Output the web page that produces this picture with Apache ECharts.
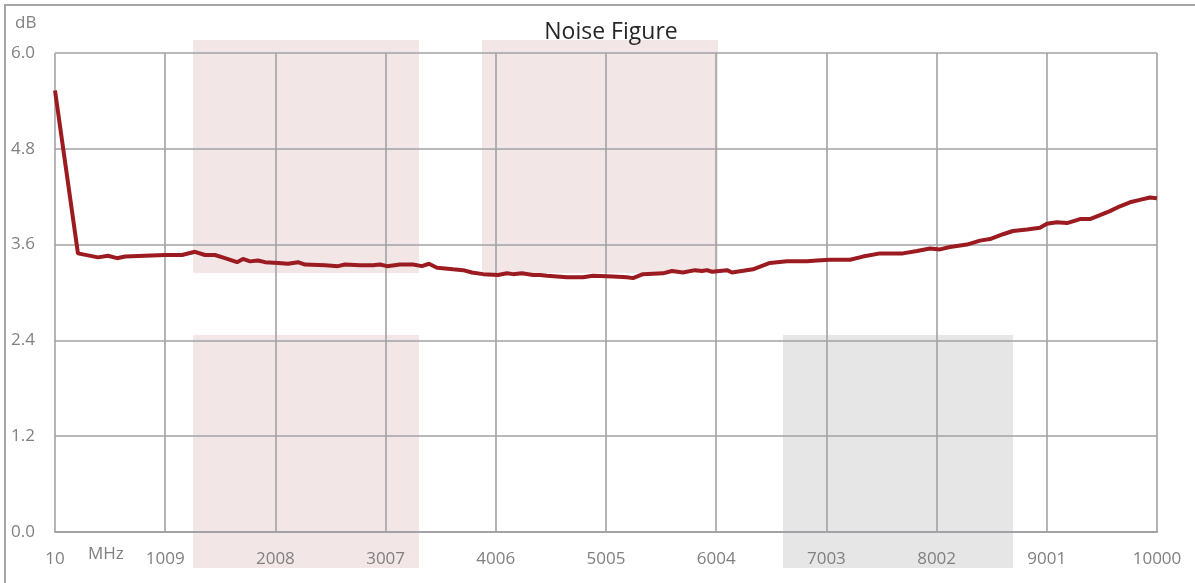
<!DOCTYPE html>
<html>
<head>
<meta charset="utf-8">
<script src="https://cdn.jsdelivr.net/npm/echarts@6/dist/echarts.min.js"></script>
<style>
html,body{margin:0;padding:0;background:#fff;}
#c{width:1195px;height:583px;}
</style>
</head>
<body>
<div id="c"></div>
<script>
// Frequency in MHz
const freqMHz = [10,218,400,490,572,645,826,1007,1161,1279,1370,1460,1551,1660,1714,1778,1850,1914,2031,2122,2213,2276,2458,2575,2639,2657,2775,2893,2956,3020,3137,3255,3337,3400,3473,3618,3709,3790,3890,4026,4107,4162,4243,4343,4406,4470,4651,4796,4887,5068,5195,5250,5340,5521,5603,5703,5812,5875,5920,5966,6102,6147,6337,6491,6646,6827,6917,7035,7217,7334,7489,7697,7824,7942,8033,8123,8277,8395,8486,8604,8694,8821,8939,9002,9093,9184,9302,9392,9483,9573,9664,9755,9845,9936,10000];
// Noise figure in dB
const noiseFigureDB = [5.53,3.49,3.44,3.46,3.43,3.45,3.46,3.47,3.47,3.51,3.47,3.47,3.43,3.38,3.42,3.39,3.40,3.38,3.37,3.36,3.38,3.35,3.34,3.33,3.35,3.36,3.34,3.34,3.35,3.33,3.35,3.35,3.33,3.36,3.31,3.29,3.28,3.25,3.23,3.22,3.24,3.23,3.24,3.22,3.22,3.21,3.19,3.19,3.21,3.20,3.19,3.18,3.23,3.24,3.27,3.25,3.28,3.27,3.28,3.26,3.28,3.25,3.29,3.37,3.39,3.39,3.40,3.41,3.41,3.45,3.49,3.49,3.52,3.55,3.54,3.57,3.60,3.65,3.67,3.73,3.77,3.79,3.81,3.86,3.88,3.87,3.92,3.92,3.97,4.02,4.08,4.13,4.16,4.19,4.18];
const xStartMHz = 10;
const xTickStepMHz = 999;
const xEndMHz = 10000;
const yMin = 0, yMax = 6, yStep = 1.2;
const titleText = 'Noise Figure';
const yUnit = 'dB';
const xUnit = 'MHz';

const seriesData = freqMHz.map((f, i) => [f - xStartMHz, noiseFigureDB[i]]);
const gridColor = '#A2A2A6';
const labelColor = '#808080';
const fontFam = '"Open Sans", "Liberation Sans", sans-serif';

const chart = echarts.init(document.getElementById('c'), null, {renderer: 'canvas'});
chart.setOption({
  animation: false,
  backgroundColor: '#ffffff',
  title: {
    text: titleText,
    left: 606, top: 16,
    textAlign: 'center',
    textStyle: {fontFamily: fontFam, fontSize: 23, fontWeight: 'normal', color: '#262626'}
  },
  grid: {left: 55, top: 53, right: 38, bottom: 51, containLabel: false},
  xAxis: {
    type: 'value',
    min: 0, max: xEndMHz - xStartMHz, interval: xTickStepMHz,
    axisLine: {show: true, lineStyle: {color: gridColor, width: 2}},
    axisTick: {show: false},
    splitLine: {show: true, lineStyle: {color: gridColor, width: 1.6}},
    axisLabel: {
      color: labelColor, fontFamily: fontFam, fontSize: 17, margin: 19,
      showMinLabel: true, showMaxLabel: true,
      formatter: v => String(Math.round(v + xStartMHz))
    }
  },
  yAxis: {
    type: 'value',
    min: yMin, max: yMax, interval: yStep,
    axisLine: {show: false},
    axisTick: {show: false},
    splitLine: {show: true, lineStyle: {color: gridColor, width: 1.6}},
    axisLabel: {
      color: labelColor, fontFamily: fontFam, fontSize: 17, margin: 20,
      formatter: v => v.toFixed(1)
    }
  },
  graphic: [
    {type: 'rect', z: -10, shape: {x: 5, y: 5, width: 1300, height: 700}, style: {fill: 'none', stroke: '#A6A6A6', lineWidth: 2}},
    {type: 'rect', z: -10, shape: {x: 193, y: 40, width: 226, height: 233}, style: {fill: '#F2E6E7'}},
    {type: 'rect', z: -10, shape: {x: 193, y: 335, width: 226, height: 233}, style: {fill: '#F2E6E7'}},
    {type: 'rect', z: -10, shape: {x: 482, y: 40, width: 236, height: 233}, style: {fill: '#F2E6E7'}},
    {type: 'rect', z: -10, shape: {x: 783, y: 335, width: 230, height: 233}, style: {fill: '#E6E6E6'}},
    {type: 'text', z: 10, left: 15, top: 15, style: {text: yUnit, fill: labelColor, font: '17px ' + fontFam}},
    {type: 'text', z: 10, left: 88, top: 546, style: {text: xUnit, fill: labelColor, font: '17px ' + fontFam}}
  ],
  series: [{
    type: 'line',
    data: seriesData,
    symbol: 'none',
    smooth: false,
    lineStyle: {color: '#9B1B21', width: 4},
    z: 5
  }]
});
</script>
</body>
</html>
